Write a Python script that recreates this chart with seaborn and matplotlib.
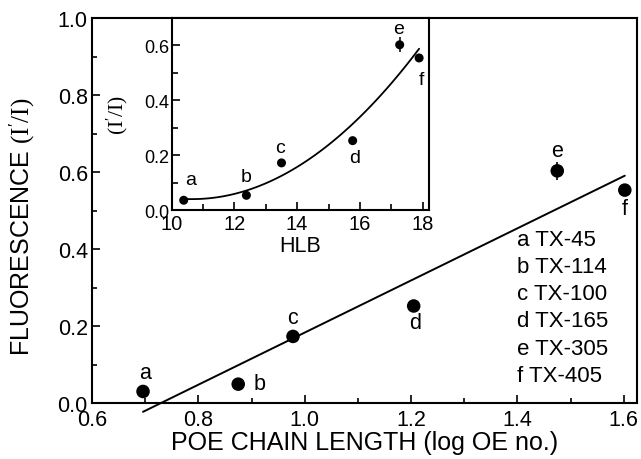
"""Fluorescence vs POE chain length, with HLB inset."""

import matplotlib
matplotlib.use("Agg")
import matplotlib.pyplot as plt
import pandas as pd
import seaborn as sns
from matplotlib.ticker import MultipleLocator

# main panel: fluorescence ratio vs log OE number
labels = ["a", "b", "c", "d", "e", "f"]
log_oe = [0.696, 0.875, 0.978, 1.205, 1.475, 1.602]
fluor = [0.030, 0.049, 0.173, 0.252, 0.603, 0.553]
fluor_err = [0.0, 0.0, 0.0, 0.0, 0.023, 0.0]
label_x = [0.700, 0.915, 0.978, 1.207, 1.475, 1.602]
label_y = [0.080, 0.051, 0.223, 0.208, 0.655, 0.504]

legend_lines = ["a TX-45", "b TX-114", "c TX-100", "d TX-165", "e TX-305", "f TX-405"]

# inset: same ratio vs HLB
hlb = [10.38, 12.38, 13.50, 15.77, 17.27, 17.89]
hlb_fluor = [0.036, 0.054, 0.172, 0.253, 0.602, 0.554]
hlb_err = [0.0, 0.0, 0.0, 0.0, 0.027, 0.0]
hlb_label_x = [10.59, 12.38, 13.46, 15.84, 17.25, 17.96]
hlb_label_y = [0.112, 0.122, 0.229, 0.190, 0.660, 0.476]
# trend curve
curve_x = [10.38, 12.0, 13.0, 14.0, 15.0, 16.0, 17.0, 17.89]
curve_y = [0.034, 0.066, 0.106, 0.160, 0.233, 0.329, 0.455, 0.598]

sns.set_theme(style="ticks", rc={
    "axes.edgecolor": "black", "axes.labelcolor": "black", "text.color": "black",
    "xtick.color": "black", "ytick.color": "black", "axes.linewidth": 1.5,
})
plt.rcParams["font.family"] = ["Liberation Sans", "DejaVu Sans"]
plt.rcParams["mathtext.fontset"] = "custom"
plt.rcParams["mathtext.rm"] = "Liberation Serif"

main_df = pd.DataFrame({"x": log_oe, "y": fluor})
inset_df = pd.DataFrame({"x": hlb, "y": hlb_fluor})
curve_df = pd.DataFrame({"x": curve_x, "y": curve_y})

fig = plt.figure(figsize=(6.41, 4.6), dpi=100)
ax = fig.add_axes([0.1435, 0.1217, 0.8503, 0.837])

sns.regplot(data=main_df, x="x", y="y", ci=None, scatter=False, ax=ax,
            line_kws={"color": "black", "linewidth": 1.4, "clip_on": False})
ax.errorbar(log_oe, fluor, yerr=fluor_err, fmt="none", ecolor="black", elinewidth=1.2)
sns.scatterplot(data=main_df, x="x", y="y", color="black", s=95, edgecolor="none", ax=ax,
                clip_on=False, zorder=5)
for lab, lx, ly in zip(labels, label_x, label_y):
    ax.text(lx, ly, lab, ha="center", va="center", fontsize=15.5)

ax.set_xlim(0.6, 1.625)
ax.set_ylim(0.0, 1.0)
ax.set_xticks([0.6, 0.8, 1.0, 1.2, 1.4, 1.6])
ax.set_xticklabels(["0.6", "0.8", "1.0", "1.2", "1.4", "1.6"])
ax.xaxis.set_minor_locator(MultipleLocator(0.1))
ax.yaxis.set_major_locator(MultipleLocator(0.2))
ax.yaxis.set_minor_locator(MultipleLocator(0.1))
ax.tick_params(axis="both", which="major", direction="in", length=6, width=1.2, labelsize=15.5)
ax.tick_params(axis="both", which="minor", direction="in", length=3.5, width=1.2)
ax.tick_params(axis="x", which="major", pad=4)
ax.tick_params(axis="y", which="major", pad=3)
ax.set_xlabel("POE CHAIN LENGTH (log OE no.)", fontsize=18, labelpad=0)
ax.set_ylabel("FLUORESCENCE $\\mathrm{(I'/I)}$", fontsize=18)
ax.yaxis.set_label_coords(-0.10, 0.46)

for i, line in enumerate(legend_lines):
    ax.text(1.40, 0.424 - i * 0.0703, line, ha="left", va="center", fontsize=16)

# inset
axin = fig.add_axes([0.268, 0.541, 0.401, 0.418])
sns.regplot(data=curve_df, x="x", y="y", order=2, ci=None, scatter=False, ax=axin,
            line_kws={"color": "black", "linewidth": 1.3})
axin.errorbar(hlb, hlb_fluor, yerr=hlb_err, fmt="none", ecolor="black", elinewidth=1.1)
sns.scatterplot(data=inset_df, x="x", y="y", color="black", s=42, edgecolor="none", ax=axin,
                zorder=5)
for lab, lx, ly in zip(labels, hlb_label_x, hlb_label_y):
    axin.text(lx, ly, lab, ha="center", va="center", fontsize=14)

axin.set_xlim(10, 18.2)
axin.set_ylim(0.0, 0.7)
axin.set_xticks([10, 12, 14, 16, 18])
axin.xaxis.set_minor_locator(MultipleLocator(1))
axin.set_yticks([0.0, 0.2, 0.4, 0.6])
axin.set_yticklabels(["0.0", "0.2", "0.4", "0.6"])
axin.yaxis.set_minor_locator(MultipleLocator(0.1))
axin.tick_params(axis="both", which="major", direction="in", length=6, width=1.2)
axin.tick_params(axis="both", which="minor", direction="in", length=4, width=1.2)
axin.tick_params(axis="x", which="major", labelsize=14.5, pad=3)
axin.tick_params(axis="y", which="major", labelsize=13, pad=2)
axin.set_xlabel("HLB", fontsize=15.5, labelpad=1)
axin.set_ylabel("$\\mathrm{(I'/I)}$", fontsize=15.5, labelpad=10)

fig.savefig("out.png", dpi=100)
